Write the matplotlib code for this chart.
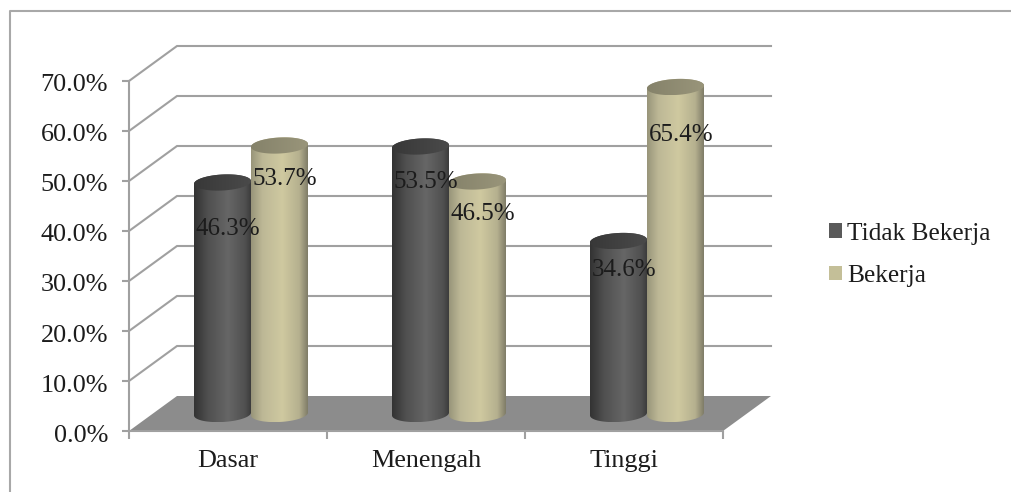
import numpy as np
import matplotlib
matplotlib.use("Agg")
import matplotlib.pyplot as plt
from matplotlib.patches import Patch, Polygon
from matplotlib.lines import Line2D
from matplotlib.path import Path
from matplotlib.colors import to_rgb
from matplotlib.transforms import ScaledTranslation

categories = ["Dasar", "Menengah", "Tinggi"]
tidak_bekerja = [46.3, 53.5, 34.6]
bekerja = [53.7, 46.5, 65.4]
series_names = ["Tidak Bekerja", "Bekerja"]
y_ticks = [0, 10, 20, 30, 40, 50, 60, 70]

W, H = 1011, 492
plt.rcParams["font.family"] = ["Liberation Serif", "DejaVu Serif"]
FS = 18
FS_AXIS = 18.8
FS_LEG = 18.3
TXT = "#1c1c1c"
GRID = "#a0a0a0"
LW = 1.5

fig = plt.figure(figsize=(W / 100, H / 100), dpi=100, facecolor="white")
L, R, T, B = 129, 723, 81, 431
ax = fig.add_axes([L / W, 1 - B / H, (R - L) / W, (B - T) / H])
ax.set_facecolor("none")
ax.set_xlim(0, 3)
ax.set_ylim(0, 70)
ux = (R - L) / 3
uy = (B - T) / 70
dx, dy = 48 / ux, 35 / uy

# frame: top and left edges only, running off the picture
fig.add_artist(Line2D([9.5 / W, 9.5 / W, 1], [0, 1 - 10.5 / H, 1 - 10.5 / H],
                      transform=fig.transFigure, color="#a8a8a8", lw=LW))

# floor and walls
ax.add_patch(Polygon([(0, 0), (dx, dy), (3 + dx, dy), (3, 0)], closed=True,
                     fc="#8c8c8c", ec="none", clip_on=False, zorder=1))
for v in y_ticks[1:]:
    ax.plot([0, dx, 3 + dx], [v, v + dy, v + dy], color=GRID, lw=LW, clip_on=False,
            zorder=1, solid_joinstyle="miter")


def ramp(stops, n=128):
    xs = [s[0] for s in stops]
    cols = np.array([to_rgb(s[1]) for s in stops])
    t = np.linspace(0, 1, n)
    return np.stack([np.interp(t, xs, cols[:, i]) for i in range(3)], axis=-1)[None, :, :]


dark_body = ramp([(0, "#333333"), (0.25, "#505050"), (0.6, "#666666"), (0.9, "#505050"), (1, "#3c3c3c")])
light_body = ramp([(0, "#98957a"), (0.2, "#bdb896"), (0.55, "#cfc9a0"), (0.85, "#b5b08f"), (1, "#807d68")])
dark_top = ramp([(0, "#383838"), (1, "#4a4a4a")])
light_top = ramp([(0, "#85826a"), (1, "#99957a")])

BASE = 17 / uy       # base centre height above the front edge
BH = 8 / uy          # ellipse semi-height
SHEAR = 0.05 * ux / uy  # rise per category unit, right side higher


def cylinder(x0, w, value, body, top, z):
    xc = x0 + w / 2
    t = np.linspace(0, np.pi, 60)
    ex = xc - np.cos(t) * w / 2
    skew = (ex - xc) * SHEAR
    bottom_y = BASE - np.sin(t) * BH + skew
    top_y = value + BASE + np.sin(t) * BH + skew
    front_y = value + BASE - np.sin(t) * BH + skew
    verts = np.vstack([np.column_stack([ex, bottom_y]),
                       np.column_stack([ex[::-1], top_y[::-1]]),
                       [(ex[0], bottom_y[0])]])
    codes = [Path.MOVETO] + [Path.LINETO] * (len(verts) - 2) + [Path.CLOSEPOLY]
    im = ax.imshow(body, extent=[x0, x0 + w, verts[:, 1].min(), verts[:, 1].max()],
                   aspect="auto", zorder=z)
    im.set_clip_box(fig.bbox)
    im.set_clip_path(Path(verts, codes), ax.transData)

    tv = np.vstack([np.column_stack([ex, top_y]),
                    np.column_stack([ex[::-1], front_y[::-1]]),
                    [(ex[0], top_y[0])]])
    tc = [Path.MOVETO] + [Path.LINETO] * (len(tv) - 2) + [Path.CLOSEPOLY]
    im2 = ax.imshow(top, extent=[x0, x0 + w, tv[:, 1].min(), tv[:, 1].max()], aspect="auto",
                    zorder=z + 0.1)
    im2.set_clip_box(fig.bbox)
    im2.set_clip_path(Path(tv, tc), ax.transData)


START, WIDTH = 65 / ux, 57 / ux
for i in range(len(categories)):
    cylinder(i + START, WIDTH, tidak_bekerja[i], dark_body, dark_top, 3)
    cylinder(i + START + WIDTH, WIDTH, bekerja[i], light_body, light_top, 4)
ax.set_xlim(0, 3)
ax.set_ylim(0, 70)

# data labels: pixel drop below each cylinder's top centre
drop_dark = [47, 36, 29]
drop_light = [34, 33, 48]
for i in range(len(categories)):
    for k, (vals, drops) in enumerate([(tidak_bekerja, drop_dark), (bekerja, drop_light)]):
        xc = i + START + WIDTH * (k + 0.5)
        ax.annotate(f"{vals[i]:.1f}%", (xc, vals[i] + BASE), xytext=(4, -drops[i] * 0.72),
                    textcoords="offset points", ha="center", va="center",
                    fontsize=FS, color=TXT, zorder=8, annotation_clip=False)

# axes
for s in ("top", "right"):
    ax.spines[s].set_visible(False)
for s in ("left", "bottom"):
    ax.spines[s].set_color(GRID)
    ax.spines[s].set_linewidth(LW)
    ax.spines[s].set_zorder(2)
ax.set_yticks(y_ticks)
ax.set_yticklabels([f"{v:.1f}%" for v in y_ticks], fontsize=FS_AXIS, color=TXT)
ax.set_xticks([0, 1, 2, 3])
ax.set_xticklabels([])
ax.set_xticks([0.5, 1.5, 2.5], minor=True)
ax.set_xticklabels(categories, minor=True, fontsize=FS_AXIS, color=TXT)
ax.tick_params(axis="y", length=5, width=LW, color=GRID, pad=10)
ax.tick_params(axis="x", which="major", length=6, width=LW, color=GRID)
ax.tick_params(axis="x", which="minor", length=0, pad=14)
shift = ScaledTranslation(0, -2 / 100, fig.dpi_scale_trans)
for lab in ax.get_yticklabels():
    lab.set_transform(lab.get_transform() + shift)

handles = [Patch(fc="#5a5a5a", ec="none"), Patch(fc="#c4bf98", ec="none")]
fig.legend(handles, series_names, loc="upper left", bbox_to_anchor=(821 / W, 1 - 215 / H),
           bbox_transform=fig.transFigure, frameon=False, fontsize=FS_LEG, labelcolor=TXT,
           handlelength=0.52, handleheight=0.52, handletextpad=0.22, labelspacing=0.8,
           borderpad=0.3, borderaxespad=0)

fig.savefig("out.png", dpi=100, facecolor="white")
